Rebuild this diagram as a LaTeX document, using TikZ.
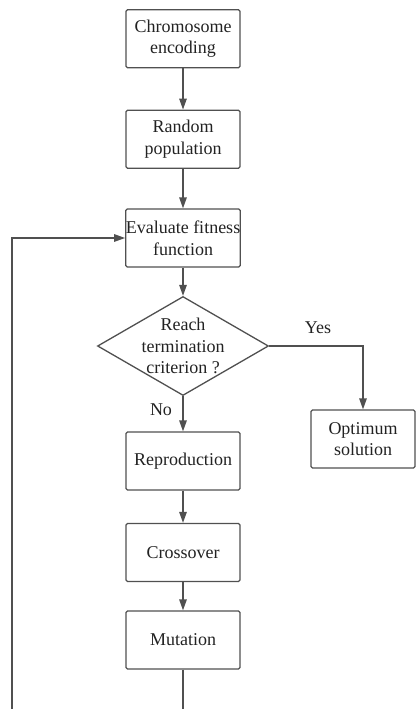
\documentclass[tikz,border=0pt]{standalone}
\usepackage{fontspec}
\setmainfont{Liberation Serif}
\usetikzlibrary{arrows.meta,shapes.geometric}
\definecolor{ln}{HTML}{505050}
\definecolor{tx}{HTML}{222222}
\tikzset{
  box/.style={draw=ln,line width=1.3pt,rounded corners=1.5pt,minimum width=114pt,minimum height=58pt,inner sep=0pt,align=center,text=tx,font=\fontsize{18}{21.7}\selectfont},
  dec/.style={draw=ln,line width=1.3pt,diamond,minimum width=171pt,minimum height=99pt,inner sep=0pt},
  lbl/.style={text=tx,font=\fontsize{18}{21.7}\selectfont,align=center,inner sep=0pt},
  arr/.style={draw=ln,line width=1.3pt,-{Triangle[length=11pt,width=7.5pt]}},
  ln/.style={draw=ln,line width=1.3pt}
}
\begin{document}
\begin{tikzpicture}[x=1pt,y=-1pt]
\useasboundingbox (0,0) rectangle (417,709);
\node[box] (c) at (183,38.8) {Chromosome\\encoding};
\node[box] (r) at (183,139.2) {Random\\population};
\node[box] (e) at (183,238) {Evaluate fitness\\function};
\node[dec] (d) at (183,346) {};
\node[lbl] (dt) at (183,346) {Reach\\termination\\criterion ?};
\node[box,minimum width=104pt] (o) at (363,439) {Optimum\\solution};
\node[box] (p) at (183,461) {Reproduction};
\node[box] (x) at (183,552.5) {Crossover};
\node[box] (m) at (183,640) {Mutation};
\node[lbl] (yes) at (318,328) {Yes};
\node[lbl] (no) at (161,410) {No};
\coordinate (mb) at (183,709);
\coordinate (fb) at (12,709);
\coordinate (ft) at (12,238);
\draw[arr] (c) -- (r);
\draw[arr] (r) -- (e);
\draw[arr] (e) -- (d.north);
\draw[arr] (d.south) -- (p);
\draw[arr] (d.east) -| (o.north);
\draw[arr] (p) -- (x);
\draw[arr] (x) -- (m);
\draw[ln] (m) -- (mb);
\draw[arr] (fb) -- (ft) -- (e.west);
\end{tikzpicture}
\end{document}
